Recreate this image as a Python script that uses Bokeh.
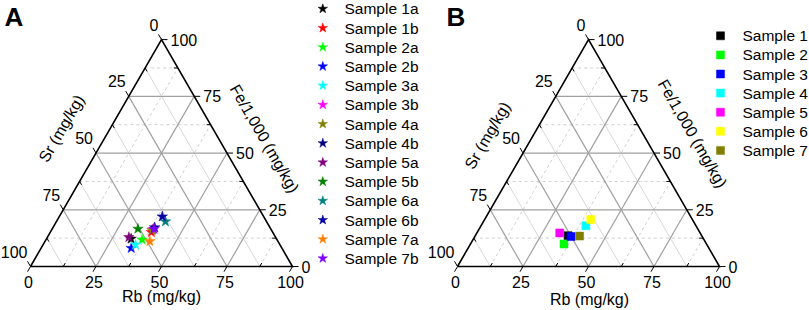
import numpy as np
from bokeh.plotting import figure
from bokeh.models import Range1d
from bokeh.core.properties import value
from bokeh.embed import file_html
from bokeh.resources import INLINE

# ---------------- data ----------------
samples_a = ["Sample 1a", "Sample 1b", "Sample 2a", "Sample 2b", "Sample 3a", "Sample 3b", "Sample 4a",
             "Sample 4b", "Sample 5a", "Sample 5b", "Sample 6a", "Sample 6b", "Sample 7a", "Sample 7b"]
colors_a = ["#000000", "#ff0000", "#00ff00", "#0000ff", "#00ffff", "#ff00ff", "#808000",
            "#000080", "#800080", "#008000", "#008080", "#0000a0", "#ff8000", "#8000ff"]
rb_a = [32.3, 38.6, 36.7, 34.4, 35.3, 38.5, 38.4, 38.8, 31.1, 32.7, 41.6, 39.3, 40.0, 38.9]
fe_a = [12.2, 15.1, 11.8, 8.1, 9.6, 16.3, 16.0, 17.2, 12.9, 16.6, 19.8, 22.0, 11.1, 16.5]
sr_a = [55.5, 46.3, 51.5, 57.5, 55.1, 45.2, 45.6, 44.0, 56.0, 50.7, 38.6, 38.7, 48.9, 44.6]

samples_b = ["Sample 1", "Sample 2", "Sample 3", "Sample 4", "Sample 5", "Sample 6", "Sample 7"]
colors_b = ["#000000", "#00ff00", "#0000ff", "#00ffff", "#ff00ff", "#ffff00", "#808000"]
rb_b = [35.4, 35.7, 36.7, 40.0, 31.6, 40.5, 39.9]
fe_b = [13.6, 9.9, 13.2, 18.0, 14.8, 20.7, 13.4]
sr_b = [51.0, 54.4, 50.1, 42.0, 53.6, 38.8, 46.7]

tick_values = [0, 25, 50, 75, 100]
tick_labels = ["0", "25", "50", "75", "100"]
minor_values = [12.5, 37.5, 62.5, 87.5]
rb_title = "Rb (mg/kg)"
sr_title = "Sr (mg/kg)"
fe_title = "Fe/1,000 (mg/kg)"
panel_labels = ["A", "B"]

# ---------------- layout ----------------
W, H = 809, 310
FONT = value("Liberation Sans")
FS = "16px"
SIDE = 262.0
HT = SIDE * np.sqrt(3) / 2
BASE_Y = 266.0


def to_screen(rb, fe, x0):
    rb = np.asarray(rb, float)
    fe = np.asarray(fe, float)
    sx = x0 + SIDE * (rb + fe / 2) / 100
    sy = BASE_Y - HT * fe / 100
    return sx, sy


def fy(sy):
    return H - np.asarray(sy, float)


p = figure(width=W, height=H, x_range=Range1d(0, W), y_range=Range1d(0, H),
           output_backend="svg", toolbar_location=None, min_border=0,
           x_axis_type=None, y_axis_type=None)
p.grid.grid_line_color = None
p.outline_line_color = None
p.background_fill_color = "white"


def grid_lines(levels, family, x0):
    xs, ys = [], []
    for c in levels:
        if family == "fe":
            a = to_screen(0, c, x0); b = to_screen(100 - c, c, x0)
        elif family == "rb":
            a = to_screen(c, 0, x0); b = to_screen(c, 100 - c, x0)
        else:  # sr
            a = to_screen(100 - c, 0, x0); b = to_screen(0, 100 - c, x0)
        xs.append([float(a[0]), float(b[0])])
        ys.append([float(fy(a[1])), float(fy(b[1]))])
    return xs, ys


def draw_panel(x0, rb, fe, sr, colors, marker, msize, titles_pos, label, label_x):
    # minor grid
    for fam in ["fe", "rb"]:
        xs, ys = grid_lines(minor_values, fam, x0)
        p.multi_line(xs, ys, line_color="#cfcfcf", line_width=1, line_dash="3 3")
    xs, ys = grid_lines(minor_values, "sr", x0)
    p.multi_line(xs, ys, line_color="#d8d8d8", line_width=1)
    # major grid
    for fam in ["fe", "rb", "sr"]:
        xs, ys = grid_lines([25, 50, 75], fam, x0)
        p.multi_line(xs, ys, line_color="#a0a0a0", line_width=1.2)

    # ticks
    txs, tys = [], []
    dirs = {"fe": (1.0, 0.0), "rb": (-0.5, 0.866), "sr": (-0.5, -0.866)}
    for fam in ["fe", "rb", "sr"]:
        for c, ln in [(v, 6.0) for v in tick_values] + [(v, -4.0) for v in minor_values]:
            if fam == "fe":
                sx, sy = to_screen(100 - c, c, x0)
            elif fam == "rb":
                sx, sy = to_screen(c, 0, x0)
            else:
                sx, sy = to_screen(0, 100 - c, x0)
            dx, dy = dirs[fam]
            txs.append([float(sx), float(sx + dx * ln)])
            tys.append([float(fy(sy)), float(fy(sy + dy * ln))])
    p.multi_line(txs, tys, line_color="black", line_width=1)

    # triangle frame
    vx, vy = to_screen([0, 100, 0, 0], [0, 0, 100, 0], x0)
    p.line(vx, fy(vy), line_color="black", line_width=1.6, line_join="miter")

    # tick labels
    sx, sy = to_screen([0] * 5, [100 - v for v in tick_values], x0)   # Sr on left edge
    p.text(sx - 3, fy(sy - 15), text=tick_labels, text_align="right", text_baseline="middle",
           text_font=FONT, text_font_size=FS, text_color="black")
    sx, sy = to_screen([100 - v for v in tick_values], tick_values, x0)  # Fe on right edge
    p.text(sx + 9, fy(sy), text=tick_labels, text_align="left", text_baseline="middle",
           text_font=FONT, text_font_size=FS, text_color="black")
    sx, sy = to_screen(tick_values, [0] * 5, x0)  # Rb on bottom
    p.text(sx - 2, fy(sy + 15), text=tick_labels, text_align="center", text_baseline="middle",
           text_font=FONT, text_font_size=FS, text_color="black")

    # axis titles
    (rbx, rby), (srx, sry), (fex, fey) = titles_pos
    p.text([rbx], [fy(rby)], text=[rb_title], text_align="center", text_baseline="middle",
           text_font=FONT, text_font_size=FS, text_color="black")
    p.text([srx], [fy(sry)], text=[sr_title], angle=60, angle_units="deg", text_align="center",
           text_baseline="middle", text_font=FONT, text_font_size=FS, text_color="black")
    p.text([fex], [fy(fey)], text=[fe_title], angle=-60, angle_units="deg", text_align="center",
           text_baseline="middle", text_font=FONT, text_font_size=FS, text_color="black")

    # panel label
    p.text([label_x], [fy(1)], text=[label], text_align="left", text_baseline="top",
           text_font=FONT, text_font_size="26px", text_font_style="bold", text_color="black")

    # data points
    rb = np.asarray(rb, float); fe = np.asarray(fe, float); sr = np.asarray(sr, float)
    tot = rb + fe + sr
    px, py = to_screen(rb / tot * 100, fe / tot * 100, x0)
    for i in range(len(rb)):
        p.scatter([float(px[i])], [float(fy(py[i]))], marker=marker, size=msize,
                  fill_color=colors[i], line_color=colors[i], line_width=0.5)


X0_A, X0_B = 30.0, 457.0
draw_panel(X0_A, rb_a, fe_a, sr_a, colors_a, "star", 11,
           ((161, 296), (61, 128), (264, 138)), panel_labels[0], 4)
draw_panel(X0_B, rb_b, fe_b, sr_b, colors_b, "square", 8,
           ((589, 299), (487, 135), (692, 133)), panel_labels[1], 446)

# legends
ly = 8.3 + 19.2 * np.arange(len(samples_a))
for i in range(len(samples_a)):
    p.scatter([322.3], [float(fy(ly[i]))], marker="star", size=10,
              fill_color=colors_a[i], line_color=colors_a[i], line_width=0.5)
p.text([344.0] * len(samples_a), fy(ly), text=samples_a, text_align="left", text_baseline="middle",
       text_font=FONT, text_font_size="15.5px", text_color="black")

ly = 35.3 + 19.1 * np.arange(len(samples_b))
for i in range(len(samples_b)):
    p.scatter([720.0], [float(fy(ly[i]))], marker="square", size=8,
              fill_color=colors_b[i], line_color=colors_b[i], line_width=0.5)
p.text([742.0] * len(samples_b), fy(ly), text=samples_b, text_align="left", text_baseline="middle",
       text_font=FONT, text_font_size="15.5px", text_color="black")

open("out.html", "w").write(file_html(p, INLINE))
